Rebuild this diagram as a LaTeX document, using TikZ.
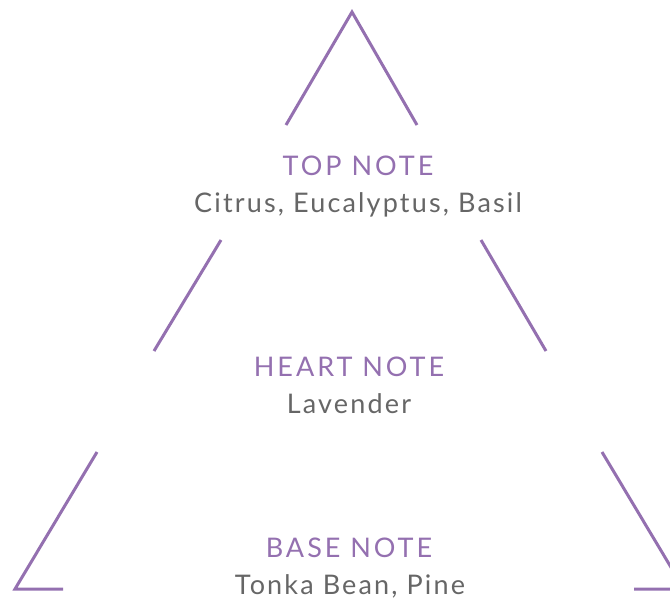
\documentclass[tikz,border=0pt]{standalone}
\usepackage{fontspec}
\setmainfont{Lato}
\newfontfamily\headfont[LetterSpace=11]{Lato}
\newfontfamily\bodyfont[LetterSpace=8]{Lato}
\definecolor{lav}{HTML}{9470B0}
\definecolor{txt}{HTML}{666666}
\begin{document}
\begin{tikzpicture}[x=1pt,y=-1pt,
  edge/.style={draw=lav,line width=3pt},
  head/.style={anchor=base,text=lav,font=\headfont\fontsize{27}{30}\selectfont,inner sep=0pt},
  body/.style={anchor=base,text=txt,font=\bodyfont\fontsize{27}{30}\selectfont,inner sep=0pt}]
\useasboundingbox (0,0) rectangle (670,598);
\clip (0,0) rectangle (670,598);
\coordinate (apex) at (352,12);
\coordinate (l1) at (286,125);
\coordinate (r1) at (417,125);
\coordinate (l2a) at (221,240);
\coordinate (l2b) at (154,351);
\coordinate (r2a) at (481,240);
\coordinate (r2b) at (546,351);
\coordinate (l3a) at (97,452);
\coordinate (l3b) at (15,589);
\coordinate (l3c) at (63,589);
\coordinate (r3a) at (602,452);
\coordinate (r3b) at (684,589);
\coordinate (r3c) at (634,589);
\draw[edge,line join=miter] (l1) -- (apex) -- (r1);
\draw[edge] (l2a) -- (l2b);
\draw[edge] (r2a) -- (r2b);
\draw[edge,line join=miter] (l3a) -- (l3b) -- (l3c);
\draw[edge,line join=miter] (r3a) -- (r3b) -- (r3c);
\node[head] (top) at (358,175) {TOP NOTE};
\node[body] (topl) at (358,212) {Citrus, Eucalyptus, Basil};
\node[head] (heart) at (349,376) {HEART NOTE};
\node[body] (heartl) at (349,413) {Lavender};
\node[head] (base) at (349,557) {BASE NOTE};
\node[body] (basel) at (350,594) {Tonka Bean, Pine};
\end{tikzpicture}
\end{document}
